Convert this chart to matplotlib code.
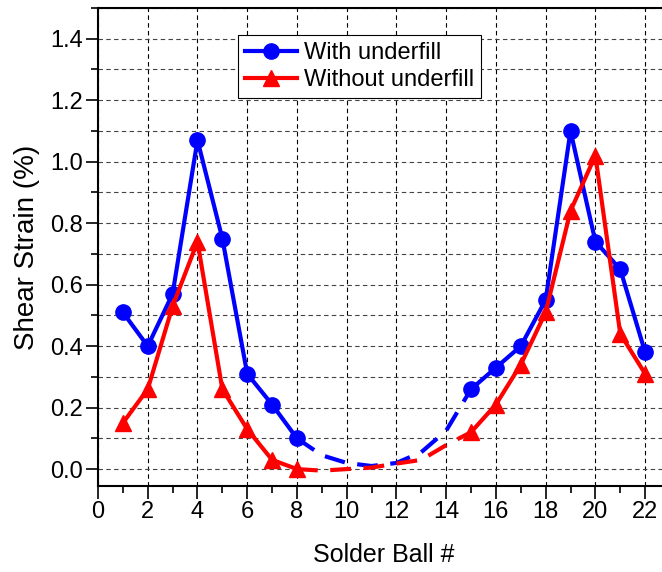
import matplotlib.pyplot as plt
from matplotlib.ticker import MultipleLocator

plt.rcParams['font.family'] = ['Liberation Sans', 'DejaVu Sans']

# Measured solder balls
balls_left = [1, 2, 3, 4, 5, 6, 7, 8]
balls_right = [15, 16, 17, 18, 19, 20, 21, 22]
with_left = [0.51, 0.40, 0.57, 1.07, 0.75, 0.31, 0.21, 0.10]
with_right = [0.26, 0.33, 0.40, 0.55, 1.10, 0.74, 0.65, 0.38]
without_left = [0.15, 0.26, 0.53, 0.74, 0.26, 0.13, 0.03, 0.00]
without_right = [0.12, 0.21, 0.34, 0.51, 0.84, 1.02, 0.44, 0.31]

# Dashed trend across the middle balls
balls_mid = [8, 9, 10, 11, 12, 13, 14, 15]
with_mid = [0.10, 0.045, 0.02, 0.01, 0.02, 0.055, 0.125, 0.26]
without_mid = [0.00, -0.005, 0.0, 0.005, 0.018, 0.03, 0.078, 0.12]

fig = plt.figure(figsize=(6.62, 5.72), dpi=100)
ax = fig.add_axes([98 / 662, 86 / 572, 572 / 662, 478 / 572])

blue = "#0000ff"
red = "#ff0000"

ax.plot(balls_mid, with_mid, color=blue, lw=3, ls=(0, (5, 3)))
ax.plot(balls_mid, without_mid, color=red, lw=3, ls=(0, (5, 3)))

ax.plot(balls_left, with_left, color=blue, lw=3, marker='o', ms=11, label="With underfill")
ax.plot(balls_right, with_right, color=blue, lw=3, marker='o', ms=11)
ax.plot(balls_left, without_left, color=red, lw=3, marker='^', ms=12, label="Without underfill")
ax.plot(balls_right, without_right, color=red, lw=3, marker='^', ms=12)

ax.set_xlim(0, 23)
ax.set_ylim(-0.055, 1.5)
ax.xaxis.set_major_locator(MultipleLocator(2))
ax.xaxis.set_minor_locator(MultipleLocator(1))
ax.yaxis.set_major_locator(MultipleLocator(0.2))
ax.yaxis.set_minor_locator(MultipleLocator(0.1))
ax.yaxis.set_major_formatter(lambda v, p: f"{v:.1f}")

ax.grid(True, which='major', axis='x', color='black', ls=(0, (4, 3)), lw=0.8)
ax.grid(True, which='both', axis='y', color='#444444', ls=(0, (4, 3)), lw=0.8)
ax.set_axisbelow(True)

ax.tick_params(which='major', direction='out', length=9, width=1.2, labelsize=17, pad=2)
ax.tick_params(which='minor', direction='out', length=5, width=1.2)
for s in ax.spines.values():
    s.set_linewidth(1.5)

ax.set_xlabel("Solder Ball #", fontsize=18, labelpad=14)
ax.set_ylabel("Shear Strain (%)", fontsize=20, labelpad=7)

leg = ax.legend(loc='upper left', bbox_to_anchor=(0.245, 0.943), fontsize=17,
                frameon=True, fancybox=False, edgecolor='black', framealpha=1,
                handlelength=2.2, borderpad=0.3, labelspacing=0.2, handletextpad=0.3,
                borderaxespad=0)
leg.get_frame().set_linewidth(0.8)

fig.savefig("out.png", dpi=100)
